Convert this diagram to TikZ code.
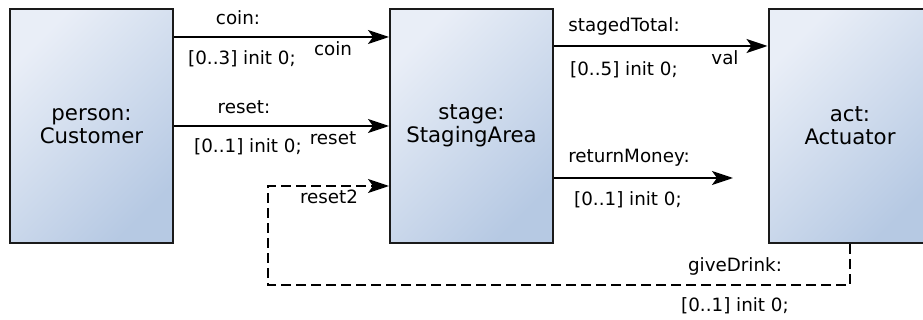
\documentclass[tikz,border=0pt]{standalone}
\usepackage{fontspec}
\setmainfont{DejaVu Sans}
\usetikzlibrary{arrows.meta}
\definecolor{boxlight}{HTML}{E9EEF7}
\definecolor{boxdark}{HTML}{B6C9E3}
\definecolor{edge}{HTML}{1A1A1A}
\tikzset{
  block/.style={draw=edge, line width=2pt, shading=axis, top color=boxlight,
    bottom color=boxdark, shading angle=45, minimum width=163pt,
    minimum height=234pt, inner sep=0pt, align=center,
    font=\fontsize{21.3}{23}\selectfont},
  flow/.style={line width=2.1pt, -{Stealth[length=21pt,width=14pt,inset=5pt]}},
  ctrl/.style={flow, dash pattern=on 10pt off 5pt},
  lbl/.style={inner sep=0pt, font=\fontsize{18.3}{20}\selectfont}
}
\begin{document}
\begin{tikzpicture}[x=1pt,y=-1pt]
  \useasboundingbox (0,0) rectangle (923,320);
  \begin{scope}
    \clip (0,0) rectangle (923,320);
    % components
    \node[block] (cust)  at (91.5,126)  {person:\\Customer};
    \node[block] (stage) at (471.5,126) {stage:\\StagingArea};
    \node[block] (act)   at (850,126)   {act:\\Actuator};
  \end{scope}

  % ports and free ends
  \coordinate (rmEnd) at (733,178);
  \coordinate (fbA) at (850,285);
  \coordinate (fbB) at (268,285);
  \coordinate (fbC) at (268,186);

  % flows Customer -> StagingArea
  \draw[flow] (cust.east |- 0,37)  -- (stage.west |- 0,37);
  \draw[flow] (cust.east |- 0,126) -- (stage.west |- 0,126);
  % flows StagingArea -> Actuator
  \draw[flow] (stage.east |- 0,46) -- (act.west |- 0,46);
  \draw[flow] (stage.east |- rmEnd) -- (rmEnd);
  % feedback giveDrink -> reset2
  \draw[ctrl] (act.south) -- (fbA) -- (fbB) -- (fbC) -- (stage.west |- fbC);

  % labels
  \node[lbl] (l1) at (238,18)  {coin:};
  \node[lbl] (l2) at (242,59)  {[0..3] init 0;};
  \node[lbl] (l3) at (333,49)  {coin};
  \node[lbl] (l4) at (244,107) {reset:};
  \node[lbl] (l5) at (248,147) {[0..1] init 0;};
  \node[lbl] (l6) at (333,138) {reset};
  \node[lbl] (l7) at (329,197) {reset2};
  \node[lbl] (l8) at (624,26)  {stagedTotal:};
  \node[lbl] (l9) at (624,70)  {[0..5] init 0;};
  \node[lbl] (l10) at (725,58) {val};
  \node[lbl] (l11) at (629,158) {returnMoney:};
  \node[lbl] (l12) at (628,200) {[0..1] init 0;};
  \node[lbl] (l13) at (735,266) {giveDrink:};
  \node[lbl] (l14) at (735,306) {[0..1] init 0;};
\end{tikzpicture}
\end{document}
